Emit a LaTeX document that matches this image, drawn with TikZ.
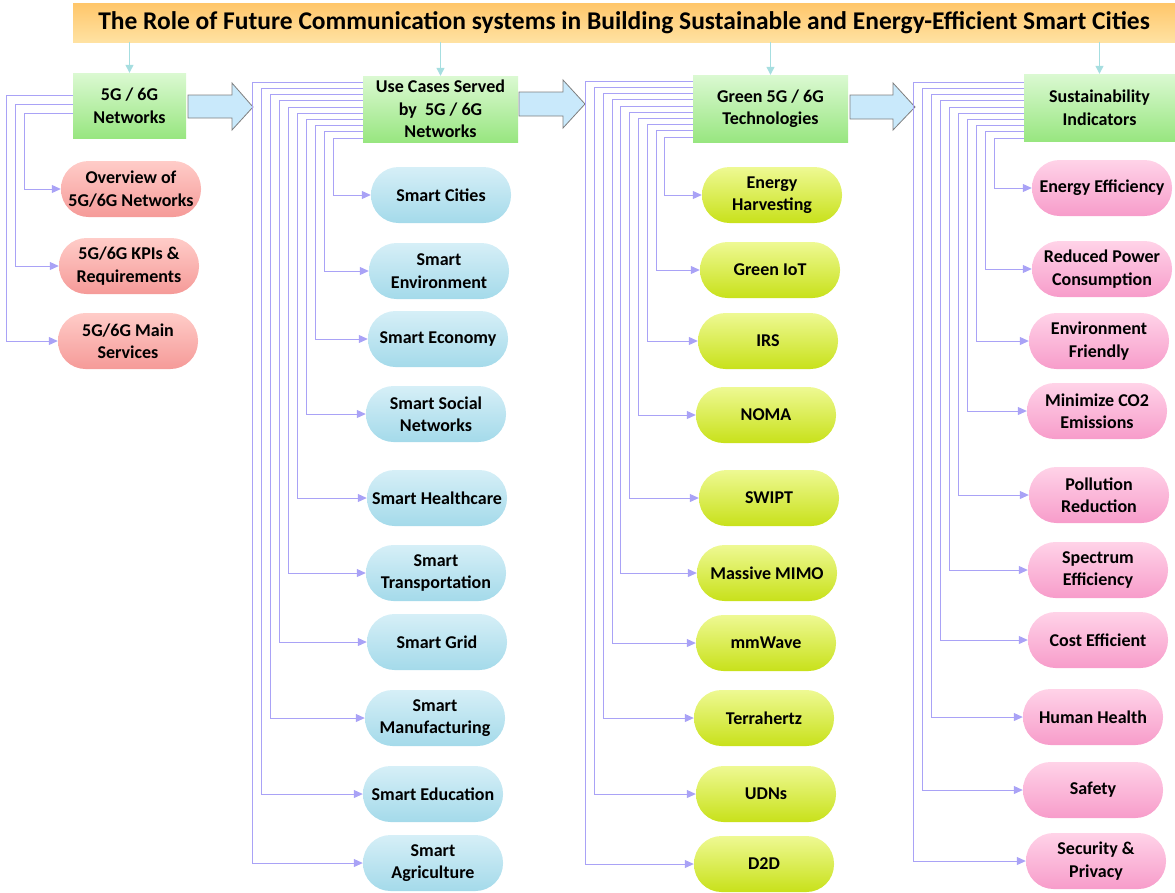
\documentclass[tikz,border=0pt]{standalone}
\usepackage{fontspec}
\setmainfont{Carlito}
\usetikzlibrary{arrows.meta}
\definecolor{connC}{HTML}{A9A2F6}
\definecolor{tealC}{HTML}{A6DEE0}
\definecolor{titT}{HTML}{FFC66A}
\definecolor{titB}{HTML}{FFE2A2}
\definecolor{hdrT}{HTML}{DBF9D2}
\definecolor{hdrB}{HTML}{98E680}
\definecolor{p1T}{HTML}{FFCCC8}
\definecolor{p1B}{HTML}{F59A98}
\definecolor{p2T}{HTML}{D6EFF7}
\definecolor{p2B}{HTML}{A4DAEA}
\definecolor{p3T}{HTML}{EEF993}
\definecolor{p3B}{HTML}{C8E11A}
\definecolor{p4T}{HTML}{FFD3E8}
\definecolor{p4B}{HTML}{F79CCA}
\definecolor{bigA}{HTML}{C9E9FB}
\definecolor{bigB}{HTML}{7F7F7F}
\begin{document}
\begin{tikzpicture}[x=1pt,y=-1pt,
  txt/.style={align=center,inner sep=0pt,font=\fontsize{18}{22.5}\selectfont\bfseries},
  hdr/.style={txt,rectangle,top color=hdrT,bottom color=hdrB,draw=none},
  pill/.style={txt,rectangle,rounded corners=27.5pt,minimum width=140pt,minimum height=56pt,draw=none},
  pillA/.style={pill,top color=p1T,bottom color=p1B},
  pillB/.style={pill,top color=p2T,bottom color=p2B},
  pillC/.style={pill,top color=p3T,bottom color=p3B},
  pillD/.style={pill,top color=p4T,bottom color=p4B},
  conn/.style={draw=connC,line width=1pt,-{Triangle[length=9pt,width=8pt]},color=connC},
  tealarr/.style={draw=tealC,line width=1.2pt,-{Triangle[length=8pt,width=8pt]},color=tealC},
  bigarrow/.style={fill=bigA,draw=bigB,line width=0.8pt,line join=miter}
]
\useasboundingbox (0,0) rectangle (1175,892);

% title
\node[rectangle,top color=titT,bottom color=titB,minimum width=1102pt,minimum height=39pt,inner sep=0pt,
  font=\fontsize{25.5}{30}\selectfont\bfseries] (title) at (624,22.5)
  {The Role of Future Communication systems in Building Sustainable and Energy-Efficient Smart Cities};

% headers
\node[hdr,minimum width=113pt,minimum height=65pt] (h1) at (129.5,105.5) {5G / 6G\\Networks};
\node[hdr,minimum width=155pt,minimum height=66pt] (h2) at (440.5,109) {Use Cases Served\\by\ \ 5G / 6G\\Networks};
\node[hdr,minimum width=155pt,minimum height=67pt] (h3) at (770.5,108.5) {Green 5G / 6G\\Technologies};
\node[hdr,minimum width=151pt,minimum height=67pt] (h4) at (1099.5,107.5) {Sustainability\\Indicators};

\foreach \h in {h1,h2,h3,h4}{
  \draw[tealarr] (title.south -| \h.north) -- (\h.north);
}

% big block arrows
\draw[bigarrow] (188,95) -- (232,95) -- (232,83) -- (253,107) -- (232,130) -- (232,118) -- (188,118) -- cycle;
\draw[bigarrow] (519,92) -- (563,92) -- (563,80) -- (585,104) -- (563,128) -- (563,116) -- (519,116) -- cycle;
\draw[bigarrow] (850,95) -- (893,95) -- (893,83) -- (915,107) -- (893,130) -- (893,119) -- (850,119) -- cycle;

% column 1
\foreach \i/\cx/\cy/\t in {1/131/189/{Overview of\\5G/6G Networks},
  2/129/266/{5G/6G KPIs \&\\Requirements},
  3/128/341/{5G/6G Main\\Services}}{
  \node[pillA] (a\i) at (\cx,\cy) {\t};
  \pgfmathsetmacro\ys{105.5-(113-(\i-1)*9)}
  \pgfmathsetmacro\dx{73-(25-(\i-1)*9)}
  \draw[conn] ([yshift=\ys pt]h1.west) -- ++(-\dx,0) |- (a\i.west);
}

% column 2
\foreach \i/\cx/\cy/\t in {1/441/195/{Smart Cities},
  2/439/271/{Smart\\Environment},
  3/438/339/{Smart Economy},
  4/436/414/{Smart Social\\Networks},
  5/437/498/{Smart Healthcare},
  6/436/573/{Smart\\Transportation},
  7/437/642/{Smart Grid},
  8/435/718/{Smart\\Manufacturing},
  9/433/794/{Smart Education},
  10/433/863/{Smart\\Agriculture}}{
  \node[pillB] (b\i) at (\cx,\cy) {\t};
  \pgfmathsetmacro\ys{109-(138-(\i-1)*6.2)}
  \pgfmathsetmacro\dx{363-(334-(\i-1)*9)}
  \draw[conn] ([yshift=\ys pt]h2.west) -- ++(-\dx,0) |- (b\i.west);
}

% column 3
\foreach \i/\cx/\cy/\t in {1/772/195/{Energy\\Harvesting},
  2/770/270/{Green IoT},
  3/768/341/{IRS},
  4/766/415/{NOMA},
  5/769/498/{SWIPT},
  6/767/573/{Massive MIMO},
  7/766/643/{mmWave},
  8/764/718/{Terrahertz},
  9/766/794/{UDNs},
  10/764/864/{D2D}}{
  \node[pillC] (c\i) at (\cx,\cy) {\t};
  \pgfmathsetmacro\ys{108.5-(137-(\i-1)*6.2)}
  \pgfmathsetmacro\dx{693-(665-(\i-1)*8.8)}
  \draw[conn] ([yshift=\ys pt]h3.west) -- ++(-\dx,0) |- (c\i.west);
}

% column 4
\foreach \i/\cx/\cy/\t in {1/1102/188/{Energy Efficiency},
  2/1102/269/{Reduced Power\\Consumption},
  3/1099/341/{Environment\\Friendly},
  4/1097/411/{Minimize CO2\\Emissions},
  5/1099/495/{Pollution\\Reduction},
  6/1098/570/{Spectrum\\Efficiency},
  7/1098/640/{Cost Efficient},
  8/1093/717/{Human Health},
  9/1093/790/{Safety},
  10/1096/861/{Security \&\\Privacy}}{
  \node[pillD] (d\i) at (\cx,\cy) {\t};
  \pgfmathsetmacro\ys{107.5-(138-(\i-1)*6.2)}
  \pgfmathsetmacro\dx{1024-(995-(\i-1)*9)}
  \draw[conn] ([yshift=\ys pt]h4.west) -- ++(-\dx,0) |- (d\i.west);
}
\end{tikzpicture}
\end{document}
